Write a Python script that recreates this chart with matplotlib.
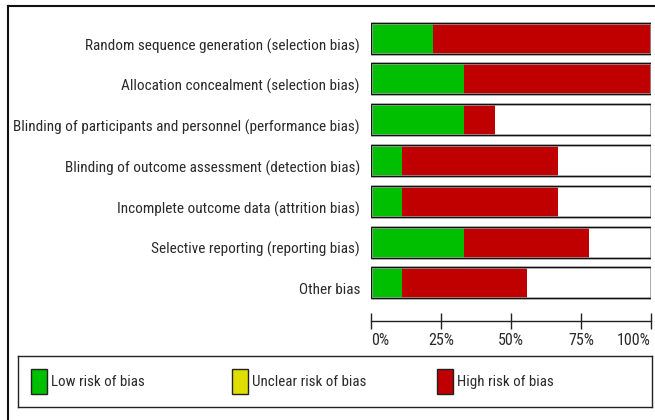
import matplotlib
matplotlib.use("Agg")
import matplotlib.pyplot as plt
from matplotlib.patches import Rectangle
from matplotlib.lines import Line2D
from matplotlib.transforms import ScaledTranslation

plt.rcParams['font.family'] = ['Liberation Sans Narrow', 'Arial Narrow', 'Roboto Condensed',
                               'Archivo Narrow', 'Liberation Sans', 'DejaVu Sans']

domains = [
    "Random sequence generation (selection bias)",
    "Allocation concealment (selection bias)",
    "Blinding of participants and personnel (performance bias)",
    "Blinding of outcome assessment (detection bias)",
    "Incomplete outcome data (attrition bias)",
    "Selective reporting (reporting bias)",
    "Other bias",
]
# share of studies (out of 9)
low = [2/9, 3/9, 3/9, 1/9, 1/9, 3/9, 1/9]
unclear = [0, 0, 0, 0, 0, 0, 0]
high = [7/9, 6/9, 1/9, 5/9, 5/9, 4/9, 4/9]

ticks = [0, 0.25, 0.5, 0.75, 1.0]
tick_labels = ["0%", "25%", "50%", "75%", "100%"]

legend_labels = ["Low risk of bias", "Unclear risk of bias", "High risk of bias"]
GREEN, YELLOW, RED = "#00bf00", "#dede00", "#c00000"

W, H = 655, 420
fig = plt.figure(figsize=(W / 100, H / 100), dpi=100)

ax = fig.add_axes([371 / W, 1 - 321 / H, 280 / W, 311 / H])
y = list(range(len(domains)))
bh = 31 / 40.77
ax.barh(y, low, height=bh, color=GREEN, linewidth=0)
ax.barh(y, unclear, left=low, height=bh, color=YELLOW, linewidth=0)
left3 = [a + b for a, b in zip(low, unclear)]
ax.barh(y, high, left=left3, height=bh, color=RED, linewidth=0)
ax.barh(y, [1] * len(y), height=bh, fill=False, edgecolor="#b0b0b0", linewidth=1.8)
ax.barh(y, [1] * len(y), height=bh, fill=False, edgecolor="#111111", linewidth=0.9)

ax.set_xlim(0, 1)
ax.set_ylim((321 - 38.2) / 40.77, -(38.2 - 10) / 40.77)
for s in ["top", "right", "left"]:
    ax.spines[s].set_visible(False)
ax.spines["bottom"].set_color("#222222")
ax.spines["bottom"].set_linewidth(1.0)
ax.set_yticks(y)
ax.set_yticklabels(domains, fontsize=11, color="#2a2a2a")
ax.tick_params(axis="y", length=0, pad=8)
shift = ScaledTranslation(0, -6 / 100, fig.dpi_scale_trans)
for lab in ax.get_yticklabels():
    lab.set_transform(lab.get_transform() + shift)
ax.set_xticks(ticks)
ax.set_xticklabels(tick_labels, fontsize=11.5, color="#2a2a2a")
ax.tick_params(axis="x", direction="inout", length=11, width=1.0, color="#222222", pad=3)
xt = ax.get_xticklabels()
xt[0].set_ha("left")
xt[-1].set_ha("right")
ax.set_facecolor("none")

# legend box
lax = fig.add_axes([18 / W, 1 - 407 / H, 634 / W, 51 / H])
lax.set_xlim(0, 634)
lax.set_ylim(51, 0)
lax.set_xticks([])
lax.set_yticks([])
for s in lax.spines.values():
    s.set_color("#222222")
    s.set_linewidth(1.0)
for xpos, lab, col in zip([13, 214, 419], legend_labels, [GREEN, YELLOW, RED]):
    lax.add_patch(Rectangle((xpos, 13), 16, 25, facecolor=col, edgecolor="#222222", linewidth=1.0))
    lax.text(xpos + 20, 26, lab, fontsize=10.8, va="center", ha="left", color="#2a2a2a")

# outer frame
fig.add_artist(Line2D([8 / W, 8 / W], [0, 1 - 6 / H], color="#111111", linewidth=1.5))
fig.add_artist(Line2D([8 / W, 1], [1 - 6 / H, 1 - 6 / H], color="#111111", linewidth=1.5))

fig.savefig("out.png", dpi=100, facecolor="white")
